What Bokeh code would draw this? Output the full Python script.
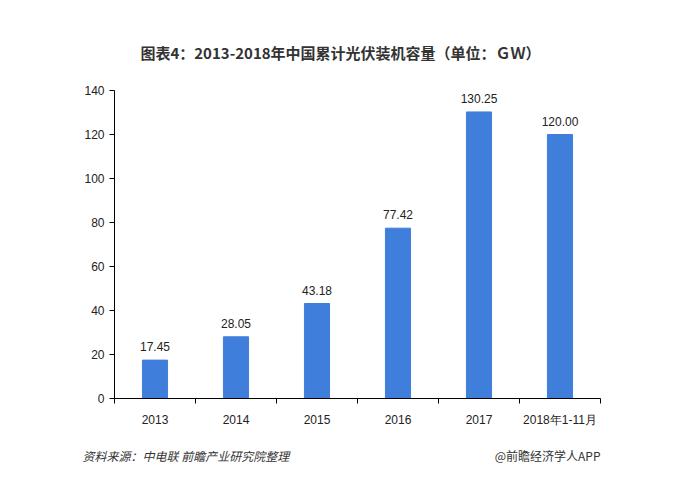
from bokeh.plotting import figure
from bokeh.models import ColumnDataSource, FixedTicker, Label, Range1d
from bokeh.embed import file_html
from bokeh.resources import INLINE
from bokeh.core.properties import value

categories = ["2013", "2014", "2015", "2016", "2017", "2018年1-11月"]
values = [17.45, 28.05, 43.18, 77.42, 130.25, 120.00]
value_labels = ["17.45", "28.05", "43.18", "77.42", "130.25", "120.00"]
y_ticks = [0, 20, 40, 60, 80, 100, 120, 140]
title_text = "图表4：2013-2018年中国累计光伏装机容量（单位：ＧＷ）"
source_text = "资料来源：中电联  前瞻产业研究院整理"
brand_text = "@前瞻经济学人APP"

W = 677
FL, FR = 114, 600
HEAD_H, MAIN_H, FOOT_H = 80, 355, 51


def blank(h):
    f = figure(width=W, height=h, output_backend="svg", toolbar_location=None,
               x_range=Range1d(0, W), y_range=Range1d(0, h),
               x_axis_type=None, y_axis_type=None, min_border=0)
    f.outline_line_color = None
    f.grid.grid_line_color = None
    return f


head = blank(HEAD_H)
head.add_layout(Label(x=340, y=HEAD_H - 52, text=title_text,
                      text_align="center", text_baseline="middle",
                      text_font="Noto Sans CJK SC", text_font_size="15px",
                      text_font_style="bold", text_color="#333333"))

xs = [i + 0.5 for i in range(len(categories))]
src = ColumnDataSource(dict(x=xs, top=values, lab=value_labels))

p = figure(width=W, height=MAIN_H, output_backend="svg", toolbar_location=None,
           x_range=Range1d(0, len(categories)), y_range=Range1d(0, 140),
           min_border_left=FL, min_border_right=W - FR, min_border_top=10, min_border_bottom=37)
p.outline_line_color = None
p.grid.grid_line_color = None

p.vbar(x="x", top="top", width=0.31, source=src, color="#3f7fdb")
p.text(x="x", y="top", text="lab", source=src, text_align="center", text_baseline="bottom",
       y_offset=-9, text_font=value("Liberation Sans"), text_font_size="12px", text_color="#222222")

p.xaxis.ticker = FixedTicker(ticks=xs, minor_ticks=list(range(len(categories) + 1)))
p.xaxis.major_label_overrides = {x: c for x, c in zip(xs, categories)}
p.xaxis.major_tick_line_color = None
p.xaxis.minor_tick_in = 0
p.xaxis.minor_tick_out = 5
p.xaxis.minor_tick_line_color = "black"
p.xaxis.axis_line_color = "black"
p.xaxis.major_label_standoff = 8
p.xaxis.major_label_text_font = "Liberation Sans"
p.xaxis.major_label_text_font_size = "12px"
p.xaxis.major_label_text_color = "#222222"

p.yaxis.ticker = FixedTicker(ticks=y_ticks)
p.yaxis.minor_tick_line_color = None
p.yaxis.major_tick_in = 0
p.yaxis.major_tick_out = 5
p.yaxis.axis_line_color = "black"
p.yaxis.major_tick_line_color = "black"
p.yaxis.major_label_text_font = "Liberation Sans"
p.yaxis.major_label_text_font_size = "12px"
p.yaxis.major_label_text_color = "#222222"

foot = blank(FOOT_H)
foot.add_layout(Label(x=82, y=FOOT_H - 20, text=source_text,
                      text_align="left", text_baseline="middle",
                      text_font="Noto Sans CJK SC", text_font_size="12px",
                      text_font_style="italic", text_color="#333333"))
foot.add_layout(Label(x=600, y=FOOT_H - 20, text=brand_text,
                      text_align="right", text_baseline="middle",
                      text_font="Noto Sans CJK SC", text_font_size="12px",
                      text_color="#333333"))

open("out.html", "w").write(file_html([head, p, foot], INLINE))
